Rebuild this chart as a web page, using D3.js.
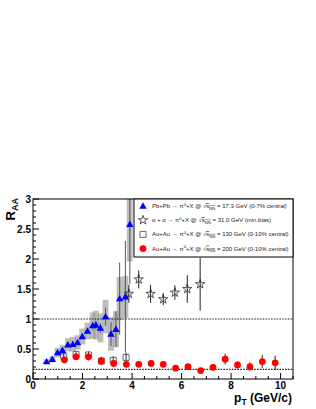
<!DOCTYPE html>
<html>
<head>
<meta charset="utf-8">
<script src="https://cdn.jsdelivr.net/npm/d3@7"></script>
<style>
  body { margin: 0; background: #fff; }
  text { font-family: "Liberation Sans", Arial, sans-serif; }
</style>
</head>
<body>
<div id="chart"></div>
<script>
// Pb+Pb 17.3 GeV (WA98)
var pbPt   = [0.55, 0.78, 0.99, 1.19, 1.41, 1.61, 1.80, 1.99, 2.20, 2.41, 2.54, 2.72, 2.93, 3.15, 3.35, 3.50, 3.73, 3.91];
var pbR    = [0.29, 0.33, 0.44, 0.48, 0.57, 0.58, 0.61, 0.71, 0.80, 0.89, 0.90, 0.85, 1.04, 0.75, 0.83, 1.34, 1.37, 2.58];
var pbStat = [0.02, 0.02, 0.02, 0.02, 0.03, 0.03, 0.03, 0.04, 0.05, 0.06, 0.06, 0.08, 0.15, 0.20, 0.30, 0.60, 0.93, 1.00];
var pbSys  = [0.04, 0.05, 0.08, 0.09, 0.11, 0.12, 0.12, 0.13, 0.14, 0.22, 0.24, 0.24, 0.28, 0.28, 0.30, 0.36, 0.35, 0.62];

// alpha+alpha 31 GeV (ISR)
var aaPt  = [3.87, 4.27, 4.75, 5.26, 5.73, 6.23, 6.75];
var aaR   = [1.42, 1.66, 1.42, 1.33, 1.44, 1.50, 1.58];
var aaErr = [0.15, 0.15, 0.15, 0.10, 0.12, 0.23, 0.44];

// Au+Au 130 GeV
var au130Pt  = [1.24, 1.74, 2.24, 2.76, 3.24, 3.76];
var au130R   = [0.38, 0.41, 0.40, 0.30, 0.31, 0.36];
var au130Err = [0.05, 0.05, 0.06, 0.07, 0.07, 0.08];

// Au+Au 200 GeV
var au200Pt  = [1.27, 1.74, 2.24, 2.76, 3.26, 3.77, 4.27, 4.77, 5.26, 5.76, 6.26, 6.77, 7.27, 7.76, 8.26, 8.76, 9.26, 9.78];
var au200R   = [0.32, 0.37, 0.37, 0.30, 0.26, 0.245, 0.245, 0.26, 0.245, 0.18, 0.205, 0.14, 0.195, 0.33, 0.235, 0.205, 0.29, 0.27];
var au200Err = [0.04, 0.05, 0.06, 0.06, 0.05, 0.05, 0.03, 0.03, 0.03, 0.03, 0.04, 0.03, 0.05, 0.09, 0.06, 0.07, 0.11, 0.12];

var refLines = [1, 0.16];

var xTicks = [0, 2, 4, 6, 8, 10];
var yTicks = [0, 0.5, 1, 1.5, 2, 2.5, 3];
var yTickLabels = ["0", "0.5", "1", "1.5", "2", "2.5", "3"];

var legendReaction = ["Pb+Pb \u2192 \u03c0", "\u03b1 + \u03b1 \u2192 \u03c0", "Au+Au \u2192 \u03c0", "Au+Au \u2192 \u03c0"];
var legendEnergy = ["= 17.3 GeV (0-7% central)", "= 31.0 GeV (min.bias)", "= 130 GeV (0-10% central)", "= 200 GeV (0-10% central)"];

var width = 316, height = 409;
var frame = { left: 33, right: 293, top: 199, bottom: 379 };

var svg = d3.select("#chart").append("svg")
    .attr("width", width)
    .attr("height", height);

var x = d3.scaleLinear().domain([0, 10.5]).range([frame.left, frame.right]);
var y = d3.scaleLinear().domain([0, 3]).range([frame.bottom, frame.top]);

svg.append("clipPath").attr("id", "clip")
  .append("rect")
    .attr("x", frame.left).attr("y", frame.top)
    .attr("width", frame.right - frame.left)
    .attr("height", frame.bottom - frame.top);

var plot = svg.append("g").attr("clip-path", "url(#clip)");

var pb = pbPt.map(function(d, i) { return { x: d, y: pbR[i], e: pbStat[i], s: pbSys[i] }; });
var aa = aaPt.map(function(d, i) { return { x: d, y: aaR[i], e: aaErr[i] }; });
var a130 = au130Pt.map(function(d, i) { return { x: d, y: au130R[i], e: au130Err[i] }; });
var a200 = au200Pt.map(function(d, i) { return { x: d, y: au200R[i], e: au200Err[i] }; });

// systematic boxes
plot.selectAll(".sys")
  .data(pb)
  .enter()
  .append("rect")
    .attr("class", "sys")
    .attr("x", function(d) { return x(d.x - 0.12); })
    .attr("width", function(d) { return x(d.x + 0.12) - x(d.x - 0.12); })
    .attr("y", function(d) { return y(d.y + d.s); })
    .attr("height", function(d) { return y(d.y - d.s) - y(d.y + d.s); })
    .attr("fill", "#9a9a9a")
    .attr("fill-opacity", 0.65);

// reference lines
plot.selectAll(".ref")
  .data(refLines)
  .enter()
  .append("line")
    .attr("x1", frame.left).attr("x2", frame.right)
    .attr("y1", function(d) { return y(d); })
    .attr("y2", function(d) { return y(d); })
    .attr("stroke", "#222")
    .attr("stroke-width", 1.2)
    .attr("stroke-dasharray", "1.6,1.2");

function errBars(data, color) {
  plot.append("g").selectAll("line")
    .data(data)
    .enter()
    .append("line")
      .attr("x1", function(d) { return x(d.x); })
      .attr("x2", function(d) { return x(d.x); })
      .attr("y1", function(d) { return y(d.y - d.e); })
      .attr("y2", function(d) { return y(d.y + d.e); })
      .attr("stroke", color)
      .attr("stroke-width", 1);
}

errBars(pb, "#555");
errBars(aa, "#222");
errBars(a130, "#333");
errBars(a200, "#222");

var tri = d3.symbol().type(d3.symbolTriangle).size(24);
var star = d3.symbol().type(d3.symbolStar).size(26);
var sq = d3.symbol().type(d3.symbolSquare).size(36);

plot.selectAll(".sq")
  .data(a130)
  .enter()
  .append("path")
    .attr("d", sq)
    .attr("transform", function(d) { return "translate(" + x(d.x) + "," + y(d.y) + ")"; })
    .attr("fill", "none")
    .attr("stroke", "#444")
    .attr("stroke-width", 0.8);

plot.selectAll(".tri")
  .data(pb)
  .enter()
  .append("path")
    .attr("d", tri)
    .attr("transform", function(d) { return "translate(" + x(d.x) + "," + (y(d.y) + 0.6) + ")"; })
    .attr("fill", "#0000ff");

plot.selectAll(".star")
  .data(aa)
  .enter()
  .append("path")
    .attr("d", star)
    .attr("transform", function(d) { return "translate(" + x(d.x) + "," + y(d.y) + ")"; })
    .attr("fill", "none")
    .attr("stroke", "#111")
    .attr("stroke-width", 0.7);

plot.selectAll(".dot")
  .data(a200)
  .enter()
  .append("circle")
    .attr("cx", function(d) { return x(d.x); })
    .attr("cy", function(d) { return y(d.y); })
    .attr("r", 3.4)
    .attr("fill", "#ff0000");

// frame
svg.append("rect")
  .attr("x", frame.left).attr("y", frame.top)
  .attr("width", frame.right - frame.left)
  .attr("height", frame.bottom - frame.top)
  .attr("fill", "none")
  .attr("stroke", "#000")
  .attr("stroke-width", 1);

// x axis ticks (inward)
var xMinor = d3.range(0, 10.51, 0.5);
svg.append("g").selectAll("line")
  .data(xMinor)
  .enter()
  .append("line")
    .attr("x1", function(d) { return x(d); })
    .attr("x2", function(d) { return x(d); })
    .attr("y1", frame.bottom)
    .attr("y2", function(d) { return frame.bottom - (xTicks.indexOf(d) >= 0 ? 6 : 3); })
    .attr("stroke", "#000");

svg.append("g").selectAll("text")
  .data(xTicks)
  .enter()
  .append("text")
    .attr("x", function(d) { return x(d); })
    .attr("y", 389)
    .attr("text-anchor", "middle")
    .attr("font-size", "10px")
    .attr("font-weight", "bold")
    .text(function(d) { return d; });

// y axis ticks (inward)
var yMinor = d3.range(0, 3.001, 0.1);
svg.append("g").selectAll("line")
  .data(yMinor)
  .enter()
  .append("line")
    .attr("x1", frame.left)
    .attr("x2", function(d, i) { return frame.left + (i % 5 === 0 ? 6 : 3); })
    .attr("y1", function(d) { return y(d); })
    .attr("y2", function(d) { return y(d); })
    .attr("stroke", "#000");

svg.append("g").selectAll("text")
  .data(yTicks)
  .enter()
  .append("text")
    .attr("x", 31)
    .attr("y", function(d) { return y(d) + 3.5; })
    .attr("text-anchor", "end")
    .attr("font-size", "10px")
    .attr("font-weight", "bold")
    .text(function(d, i) { return yTickLabels[i]; });

// axis titles
var xt = svg.append("text")
  .attr("x", 292)
  .attr("y", 402)
  .attr("text-anchor", "end")
  .attr("font-size", "12px")
  .attr("font-weight", "bold");
xt.append("tspan").text("p");
xt.append("tspan").attr("font-size", "8.5px").attr("dy", 3).text("T");
xt.append("tspan").attr("dy", -3).text(" (GeV/c)");

var yt = svg.append("text")
  .attr("transform", "translate(15,198) rotate(-90)")
  .attr("text-anchor", "end")
  .attr("font-size", "13px")
  .attr("font-weight", "bold");
yt.append("tspan").text("R");
yt.append("tspan").attr("font-size", "9px").attr("dy", 3).text("AA");

// legend
var leg = svg.append("g");
leg.append("rect")
  .attr("x", 134).attr("y", 199)
  .attr("width", 159).attr("height", 58)
  .attr("fill", "#fff")
  .attr("stroke", "#000")
  .attr("stroke-width", 1);

var rowY = function(i) { return 206 + i * 14.2; };
var lx = 143;

leg.append("path").attr("d", tri).attr("transform", "translate(" + lx + "," + (rowY(0) + 0.6) + ")").attr("fill", "#0000ff");
leg.append("path").attr("d", star).attr("transform", "translate(" + lx + "," + rowY(1) + ")")
  .attr("fill", "none").attr("stroke", "#111").attr("stroke-width", 0.7);
leg.append("path").attr("d", sq).attr("transform", "translate(" + lx + "," + rowY(2) + ")")
  .attr("fill", "none").attr("stroke", "#444").attr("stroke-width", 0.8);
leg.append("circle").attr("cx", lx).attr("cy", rowY(3)).attr("r", 3.4).attr("fill", "#ff0000");

legendReaction.forEach(function(r, i) {
  var t = leg.append("text")
    .attr("x", 152)
    .attr("y", rowY(i) + 2)
    .attr("font-size", "6px")
    .attr("fill", "#222");
  t.append("tspan").text(r);
  t.append("tspan").attr("font-size", "4.2px").attr("dy", -2.2).text("0");
  t.append("tspan").attr("dy", 2.2).text(i < 2 ? "+X  @ " : "+X @ ");
  t.append("tspan").text("\u221a");
  t.append("tspan").attr("text-decoration", "overline").text("s");
  t.append("tspan").attr("font-size", "4.2px").attr("dy", 1.5).attr("text-decoration", "overline").text("NN");
  t.append("tspan").attr("dy", -1.5).text(" " + legendEnergy[i]);
});
</script>
</body>
</html>
